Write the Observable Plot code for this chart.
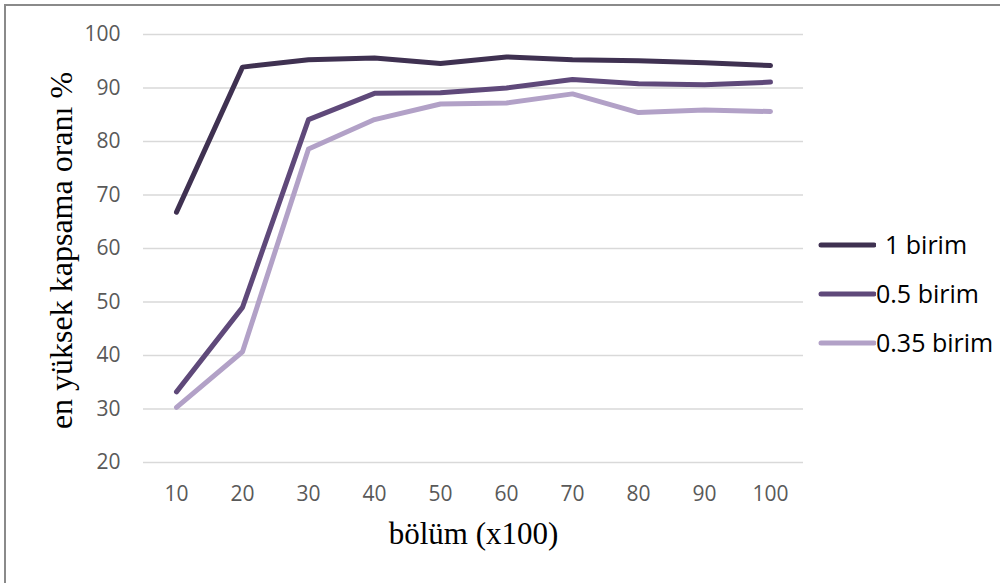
<!DOCTYPE html>
<html>
<head>
<meta charset="utf-8">
<script src="https://cdn.jsdelivr.net/npm/d3@7"></script>
<script src="https://cdn.jsdelivr.net/npm/@observablehq/plot@0.6"></script>
<style>
  html, body { margin: 0; padding: 0; background: #fff; overflow: hidden; }
  #wrap { position: relative; width: 1000px; height: 583px; overflow: hidden; }
  #frame { position: absolute; left: 4px; top: 4px; width: 1100px; height: 700px; border: 2px solid #8a8a8a; box-sizing: border-box; pointer-events: none; }
  #legend { position: absolute; left: 818px; top: 220px; font-family: "Open Sans", sans-serif; font-size: 25px; color: #000; }
  .item { display: flex; align-items: center; height: 49px; margin-top: 0; }
  .item svg { display: block; }
</style>
</head>
<body>
<div id="wrap">
  <div id="chart"></div>
  <div id="frame"></div>
  <div id="legend"></div>
</div>
<script>
const categories = [10, 20, 30, 40, 50, 60, 70, 80, 90, 100];
const seriesNames = ["1 birim", "0.5 birim", "0.35 birim"];
const series1 = [66.8, 93.9, 95.3, 95.6, 94.6, 95.8, 95.3, 95.1, 94.7, 94.2];
const series2 = [33.2, 49.0, 84.1, 89.0, 89.1, 90.0, 91.6, 90.8, 90.6, 91.1];
const series3 = [30.3, 40.7, 78.6, 84.1, 87.0, 87.2, 88.9, 85.4, 85.9, 85.6];
const seriesColors = ["#3F3151", "#5F497A", "#B2A1C7"];
const yTicks = [20, 30, 40, 50, 60, 70, 80, 90, 100];
const xTitle = "bölüm (x100)";
const yTitle = "en yüksek kapsama oranı %";

const allValues = [series1, series2, series3];
const data = [];
seriesNames.forEach((name, i) => {
  categories.forEach((c, j) => data.push({ series: name, x: c, y: allValues[i][j] }));
});

const chart = Plot.plot({
  width: 1000,
  height: 583,
  marginLeft: 143,
  marginRight: 197,
  marginTop: 34,
  marginBottom: 121,
  style: { background: "transparent" },
  x: { type: "point", domain: categories, padding: 0.5 },
  y: { domain: [20, 100] },
  color: { domain: seriesNames, range: seriesColors },
  marks: [
    Plot.gridY(yTicks, { stroke: "#d9d9d9", strokeOpacity: 1, strokeWidth: 1.6 }),
    Plot.axisY(yTicks, { tickSize: 0, tickPadding: 23, label: null, fontSize: 21, fontFamily: "Open Sans, sans-serif", fill: "#595959" }),
    Plot.axisX(categories, { tickSize: 0, tickPadding: 24, label: null, fontSize: 21, fontFamily: "Open Sans, sans-serif", fill: "#595959" }),
    Plot.lineY(data, { x: "x", y: "y", z: "series", stroke: "series", strokeWidth: 5, strokeLinecap: "round", strokeLinejoin: "round" }),
    Plot.text([yTitle], { frameAnchor: "left", textAnchor: "middle", lineAnchor: "middle", rotate: -90, dx: -82, dy: 2, fontSize: 32, fontFamily: "Liberation Serif, Times New Roman, serif", fill: "#000" }),
    Plot.text([xTitle], { frameAnchor: "bottom", textAnchor: "middle", lineAnchor: "middle", dy: 72, fontSize: 31, fontFamily: "Liberation Serif, Times New Roman, serif", fill: "#000" })
  ]
});
document.getElementById("chart").appendChild(chart);

const legend = document.getElementById("legend");
seriesNames.forEach((name, i) => {
  const item = document.createElement("div");
  item.className = "item";
  const sw = `<svg width="58" height="10"><line x1="3" y1="5" x2="56" y2="5" stroke="${seriesColors[i]}" stroke-width="5" stroke-linecap="round"/></svg>`;
  const pad = i === 0 ? 9 : 0;
  item.innerHTML = sw + `<span style="margin-left:${pad}px;line-height:1">${name}</span>`;
  legend.appendChild(item);
});
</script>
</body>
</html>
